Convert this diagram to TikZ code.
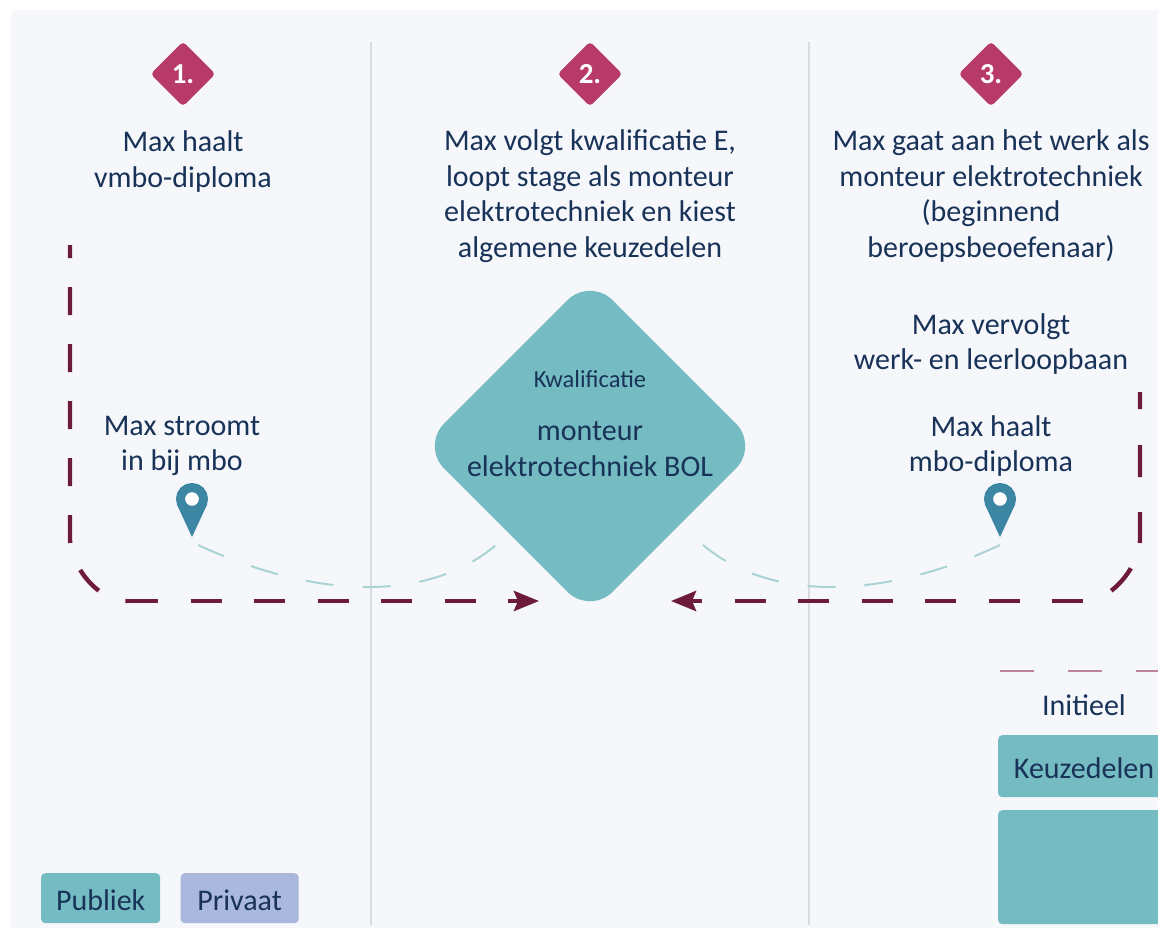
\documentclass[tikz,border=0pt]{standalone}
\usepackage{fontspec}
\setmainfont{Carlito}
\usetikzlibrary{arrows.meta,calc,positioning,shapes.geometric}
\definecolor{panelbg}{RGB}{245,247,251}
\definecolor{gridline}{RGB}{214,219,227}
\definecolor{raspberry}{RGB}{184,58,104}
\definecolor{maroon}{RGB}{110,26,60}
\definecolor{teal}{RGB}{117,188,194}
\definecolor{lightteal}{RGB}{170,212,212}
\definecolor{lavender}{RGB}{169,184,220}
\definecolor{pincol}{RGB}{58,134,163}
\definecolor{inktext}{RGB}{24,50,88}
\definecolor{rosedash}{RGB}{190,130,155}

\begin{document}
\begin{tikzpicture}[x=1pt,y=-1pt,>={Stealth[length=25pt,width=20pt,inset=4pt]},
	font=\fontsize{30}{35.5}\selectfont,text=inktext]
	\tikzstyle{stepdiamond}=[diamond,fill=raspberry,text=white,inner sep=0pt,minimum size=65pt,rounded corners=4pt,font=\fontsize{29}{30}\selectfont\bfseries]
	\tikzstyle{bigdiamond}=[diamond,fill=teal,inner sep=0pt,minimum size=337pt,rounded corners=32pt]
	\tikzstyle{lbl}=[align=center,inner sep=0pt]
	\tikzstyle{tealbox}=[rectangle,fill=teal,rounded corners=4pt,inner sep=0pt,text=inktext]
	\tikzstyle{pinhead}=[circle,draw=pincol,fill=white,line width=9pt,minimum size=23pt,inner sep=0pt]
	\tikzstyle{route}=[draw=maroon,line width=4.4pt]
	\tikzstyle{soft}=[draw=lightteal,line width=2pt,dash pattern=on 28pt off 29pt]

	\clip (0,0) rectangle (1158,927);
	\fill[panelbg,rounded corners=8pt] (10,10) rectangle (1190,960);

	\coordinate (topA) at (371,42);
	\coordinate (botA) at (371,925);
	\coordinate (topB) at (809,42);
	\coordinate (botB) at (809,925);
	\draw[gridline,line width=1.6pt] (topA) -- (botA);
	\draw[gridline,line width=1.6pt] (topB) -- (botB);

	% kolom 1
	\node[stepdiamond] (s1) at (183,74) {1.};
	\node[lbl] (t1) [below=24pt of s1] {Max haalt\\vmbo-diploma};
	\node[lbl] (t1b) at (182,446) {Max stroomt\\in bij mbo};
	\node[pinhead] (pinA) at (192,499) {};
	\fill[pincol] (pinA.-155) -- ($(pinA)+(0,38)$) -- (pinA.-25) -- cycle;

	% kolom 2
	\node[stepdiamond] (s2) at (590,74) {2.};
	\node[lbl] (t2) [below=23pt of s2] {Max volgt kwalificatie E,\\loopt stage als monteur\\elektrotechniek en kiest\\algemene keuzedelen};
	\node[bigdiamond] (kwal) at (590,446) {};
	\node[lbl,font=\fontsize{24.5}{26}\selectfont] (kwalkop) at (590,379) {Kwalificatie};
	\node[lbl] (kwalnaam) at (590,449) {monteur\\elektrotechniek BOL};

	% kolom 3
	\node[stepdiamond] (s3) at (991,74) {3.};
	\node[lbl] (t3) [below=23pt of s3] {Max gaat aan het werk als\\monteur elektrotechniek\\(beginnend\\beroepsbeoefenaar)};
	\node[lbl] (t3b) at (991,344) {Max vervolgt\\werk- en leerloopbaan};
	\node[lbl] (t3c) at (991,446) {Max haalt\\mbo-diploma};
	\node[pinhead] (pinB) at (1000,499) {};
	\fill[pincol] (pinB.-155) -- ($(pinB)+(0,38)$) -- (pinB.-25) -- cycle;

	\node[lbl] (init) at (1084,705) {Initieel};
	\node[tealbox,minimum width=170pt,minimum height=62pt,anchor=north west] (keuze) at (998,735) {};
	\node[lbl] (keuzetxt) at (1084,768) {Keuzedelen};
	\node[tealbox,minimum width=170pt,minimum height=114pt,anchor=north west] (kern) at (998,810) {};
	\coordinate (initL) at (1000,671);
	\coordinate (initR) at (1165,671);
	\draw[rosedash,line width=2.4pt,dash pattern=on 34pt off 34pt] (initL) -- (initR);

	% legenda
	\node[tealbox,text height=24pt,minimum width=119pt,minimum height=50pt,anchor=north west] (pub) at (41,873) {Publiek};
	\node[tealbox,fill=lavender,text height=24pt,minimum width=118pt,minimum height=50pt] (priv) [right=20pt of pub] {Privaat};

	% routes
	\coordinate (startA) at (70,245);
	\coordinate (bendA) at (70,540);
	\coordinate (cornerA) at (127,601);
	\coordinate (endA) at (539,601);
	\coordinate (softA) at (198,545);
	\coordinate (softB) at (496,545);
	\draw[route,dash pattern=on 28pt off 29pt,dash phase=15pt] (startA) -- (bendA) .. controls (70,562) and (95,601) .. (cornerA);
	\draw[route,->,dash pattern=on 31pt off 32.5pt] (cornerA) -- (endA);
	\draw[soft] (softA) .. controls (320,601) and (430,601) .. (softB);

	\coordinate (startB) at (1140,392);
	\coordinate (bendB) at (1140,540);
	\coordinate (cornerB) at (1083,601);
	\coordinate (endB) at (671,601);
	\coordinate (softC) at (1000,545);
	\coordinate (softD) at (703,545);
	\draw[route,dash pattern=on 17pt off 36pt on 32pt off 35pt on 31pt off 27pt on 30pt off 60pt] (startB) -- (bendB) .. controls (1140,562) and (1115,601) .. (cornerB);
	\draw[route,->,dash pattern=on 31pt off 32.5pt] (cornerB) -- (endB);
	\draw[soft] (softC) .. controls (880,601) and (770,601) .. (softD);
\end{tikzpicture}
\end{document}
